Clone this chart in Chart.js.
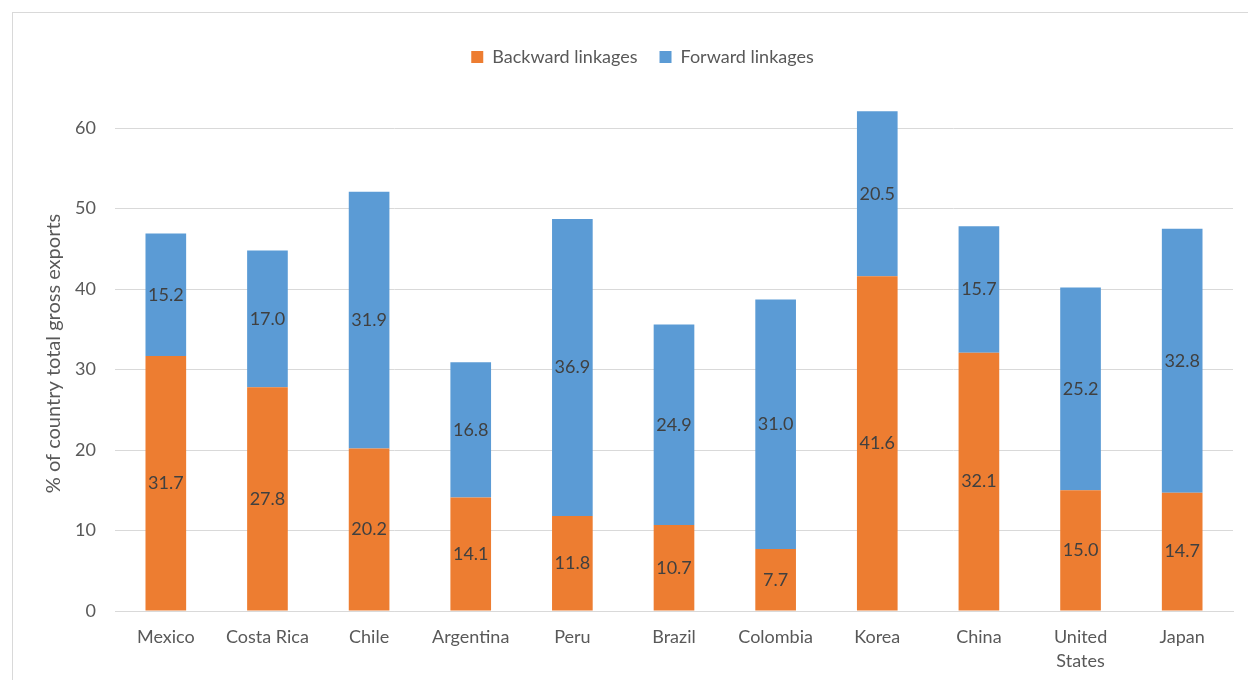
<!DOCTYPE html>
<html>
<head>
<meta charset="utf-8">
<script src="https://cdn.jsdelivr.net/npm/chart.js@4/dist/chart.umd.min.js"></script>
<style>
  html, body { margin: 0; padding: 0; background: #fff; overflow: hidden; }
  #wrap { position: relative; width: 1248px; height: 680px; }
  #frame { position: absolute; left: 12px; top: 12px; width: 1300px; height: 720px; border: 1px solid #d9d9d9; box-sizing: border-box; }
  #c { position: absolute; left: 0; top: 0; }
</style>
</head>
<body>
<div id="wrap">
  <div id="frame"></div>
  <canvas id="c" width="1248" height="680"></canvas>
</div>
<script>
// Countries on the horizontal axis
const countries = ['Mexico', 'Costa Rica', 'Chile', 'Argentina', 'Peru', 'Brazil', 'Colombia', 'Korea', 'China', ['United', 'States'], 'Japan'];
// Share of gross exports, %
const backward = [31.7, 27.8, 20.2, 14.1, 11.8, 10.7, 7.7, 41.6, 32.1, 15.0, 14.7];
const forward = [15.2, 17.0, 31.9, 16.8, 36.9, 24.9, 31.0, 20.5, 15.7, 25.2, 32.8];
const yTicks = [0, 10, 20, 30, 40, 50, 60];

const FONT = 'Lato, "Open Sans", sans-serif';
const GREY = '#595959';

// Writes each segment's value in the middle of its bar piece
const segmentLabels = {
  id: 'segmentLabels',
  afterDatasetsDraw(chart) {
    const ctx = chart.ctx;
    ctx.save();
    ctx.font = '18px ' + FONT;
    ctx.fillStyle = '#404040';
    ctx.textAlign = 'center';
    ctx.textBaseline = 'middle';
    chart.data.datasets.forEach((ds, i) => {
      chart.getDatasetMeta(i).data.forEach((bar, j) => {
        const p = bar.getProps(['x', 'y', 'base'], true);
        ctx.fillText(ds.data[j].toFixed(1), p.x, (p.y + p.base) / 2);
      });
    });
    ctx.restore();
  }
};

// Reserve fixed room for the legend above the plot and centre it over the plot area
const legendRoom = {
  id: 'legendRoom',
  beforeInit(chart) {
    const fit = chart.legend.fit;
    chart.legend.fit = function () {
      fit.bind(chart.legend)();
      this.height = 70;
    };
  },
  afterLayout(chart) {
    chart.legend.left += 52;
  }
};

new Chart(document.getElementById('c'), {
  type: 'bar',
  data: {
    labels: countries,
    datasets: [
      { label: 'Backward linkages', data: backward, backgroundColor: '#ED7D31', categoryPercentage: 1, barPercentage: 0.4 },
      { label: 'Forward linkages', data: forward, backgroundColor: '#5B9BD5', categoryPercentage: 1, barPercentage: 0.4 }
    ]
  },
  options: {
    responsive: false,
    animation: false,
    layout: { padding: { top: 26, left: 0, right: 15, bottom: 0 } },
    plugins: {
      legend: {
        position: 'top',
        labels: { font: { size: 18, family: FONT }, color: GREY, boxWidth: 12, boxHeight: 12, padding: 22 }
      },
      tooltip: { enabled: false }
    },
    scales: {
      x: {
        stacked: true,
        grid: { display: false, drawTicks: false },
        border: { display: true, color: '#d9d9d9', width: 1 },
        ticks: { font: { size: 18, family: FONT, lineHeight: 1.33 }, color: GREY, padding: 14, maxRotation: 0, autoSkip: false },
        afterFit(scale) { scale.height = 69; }
      },
      y: {
        stacked: true,
        min: 0,
        max: 64,
        afterBuildTicks(scale) { scale.ticks = yTicks.map(v => ({ value: v })); },
        grid: { color: '#d9d9d9', lineWidth: 1, drawTicks: false },
        border: { display: false },
        ticks: { font: { size: 18, family: FONT }, color: GREY, padding: 19 },
        title: { display: true, text: '% of country total gross exports', font: { size: 20, family: FONT }, color: GREY, padding: { top: 42, bottom: 0 } },
        afterFit(scale) { scale.width = 115; }
      }
    }
  },
  plugins: [segmentLabels, legendRoom]
});
</script>
</body>
</html>
